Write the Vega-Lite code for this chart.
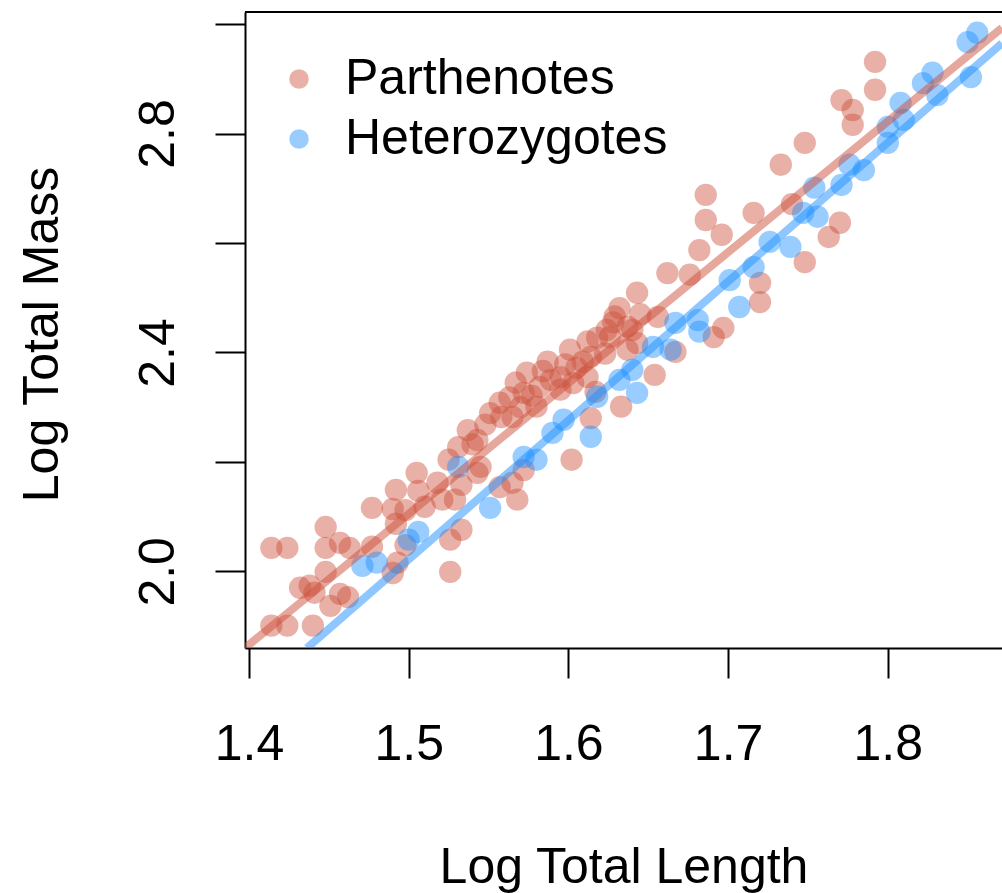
{
  "$schema": "https://vega.github.io/schema/vega-lite/v6.json",
  "width": 757,
  "height": 636,
  "autosize": {"type": "none"},
  "padding": {"left": 245, "top": 12, "right": 0, "bottom": 245},
  "background": "white",
  "config": {"view": {"stroke": null}, "font": "Liberation Sans"},
  "datasets": {
    "pts": [
      {"group": "Parthenotes", "length": 1.414, "mass": 2.043},
      {"group": "Parthenotes", "length": 1.424, "mass": 2.043},
      {"group": "Parthenotes", "length": 1.414, "mass": 1.901},
      {"group": "Parthenotes", "length": 1.424, "mass": 1.901},
      {"group": "Parthenotes", "length": 1.440, "mass": 1.901},
      {"group": "Parthenotes", "length": 1.432, "mass": 1.970},
      {"group": "Parthenotes", "length": 1.438, "mass": 1.974},
      {"group": "Parthenotes", "length": 1.448, "mass": 2.081},
      {"group": "Parthenotes", "length": 1.448, "mass": 2.043},
      {"group": "Parthenotes", "length": 1.457, "mass": 2.052},
      {"group": "Parthenotes", "length": 1.463, "mass": 2.043},
      {"group": "Parthenotes", "length": 1.448, "mass": 1.999},
      {"group": "Parthenotes", "length": 1.451, "mass": 1.937},
      {"group": "Parthenotes", "length": 1.457, "mass": 1.959},
      {"group": "Parthenotes", "length": 1.462, "mass": 1.953},
      {"group": "Parthenotes", "length": 1.477, "mass": 2.116},
      {"group": "Parthenotes", "length": 1.477, "mass": 2.045},
      {"group": "Parthenotes", "length": 1.490, "mass": 1.997},
      {"group": "Parthenotes", "length": 1.493, "mass": 2.016},
      {"group": "Parthenotes", "length": 1.492, "mass": 2.149},
      {"group": "Parthenotes", "length": 1.490, "mass": 2.114},
      {"group": "Parthenotes", "length": 1.492, "mass": 2.087},
      {"group": "Parthenotes", "length": 1.498, "mass": 2.112},
      {"group": "Parthenotes", "length": 1.505, "mass": 2.180},
      {"group": "Parthenotes", "length": 1.506, "mass": 2.147},
      {"group": "Parthenotes", "length": 1.498, "mass": 2.048},
      {"group": "Parthenotes", "length": 1.510, "mass": 2.118},
      {"group": "Parthenotes", "length": 1.518, "mass": 2.162},
      {"group": "Parthenotes", "length": 1.521, "mass": 2.131},
      {"group": "Parthenotes", "length": 1.525, "mass": 2.204},
      {"group": "Parthenotes", "length": 1.531, "mass": 2.227},
      {"group": "Parthenotes", "length": 1.537, "mass": 2.258},
      {"group": "Parthenotes", "length": 1.526, "mass": 2.058},
      {"group": "Parthenotes", "length": 1.533, "mass": 2.076},
      {"group": "Parthenotes", "length": 1.526, "mass": 1.999},
      {"group": "Parthenotes", "length": 1.543, "mass": 2.180},
      {"group": "Parthenotes", "length": 1.543, "mass": 2.240},
      {"group": "Parthenotes", "length": 1.545, "mass": 2.191},
      {"group": "Parthenotes", "length": 1.557, "mass": 2.308},
      {"group": "Parthenotes", "length": 1.558, "mass": 2.282},
      {"group": "Parthenotes", "length": 1.557, "mass": 2.154},
      {"group": "Parthenotes", "length": 1.565, "mass": 2.162},
      {"group": "Parthenotes", "length": 1.565, "mass": 2.282},
      {"group": "Parthenotes", "length": 1.568, "mass": 2.131},
      {"group": "Parthenotes", "length": 1.572, "mass": 2.185},
      {"group": "Parthenotes", "length": 1.572, "mass": 2.326},
      {"group": "Parthenotes", "length": 1.574, "mass": 2.363},
      {"group": "Parthenotes", "length": 1.577, "mass": 2.321},
      {"group": "Parthenotes", "length": 1.580, "mass": 2.301},
      {"group": "Parthenotes", "length": 1.582, "mass": 2.337},
      {"group": "Parthenotes", "length": 1.587, "mass": 2.383},
      {"group": "Parthenotes", "length": 1.589, "mass": 2.350},
      {"group": "Parthenotes", "length": 1.595, "mass": 2.355},
      {"group": "Parthenotes", "length": 1.601, "mass": 2.405},
      {"group": "Parthenotes", "length": 1.603, "mass": 2.344},
      {"group": "Parthenotes", "length": 1.609, "mass": 2.383},
      {"group": "Parthenotes", "length": 1.612, "mass": 2.355},
      {"group": "Parthenotes", "length": 1.614, "mass": 2.392},
      {"group": "Parthenotes", "length": 1.614, "mass": 2.280},
      {"group": "Parthenotes", "length": 1.602, "mass": 2.204},
      {"group": "Parthenotes", "length": 1.618, "mass": 2.427},
      {"group": "Parthenotes", "length": 1.624, "mass": 2.441},
      {"group": "Parthenotes", "length": 1.632, "mass": 2.481},
      {"group": "Parthenotes", "length": 1.633, "mass": 2.301},
      {"group": "Parthenotes", "length": 1.637, "mass": 2.447},
      {"group": "Parthenotes", "length": 1.637, "mass": 2.405},
      {"group": "Parthenotes", "length": 1.640, "mass": 2.441},
      {"group": "Parthenotes", "length": 1.643, "mass": 2.509},
      {"group": "Parthenotes", "length": 1.643, "mass": 2.417},
      {"group": "Parthenotes", "length": 1.626, "mass": 2.428},
      {"group": "Parthenotes", "length": 1.654, "mass": 2.359},
      {"group": "Parthenotes", "length": 1.656, "mass": 2.465},
      {"group": "Parthenotes", "length": 1.662, "mass": 2.545},
      {"group": "Parthenotes", "length": 1.676, "mass": 2.542},
      {"group": "Parthenotes", "length": 1.667, "mass": 2.401},
      {"group": "Parthenotes", "length": 1.682, "mass": 2.587},
      {"group": "Parthenotes", "length": 1.686, "mass": 2.688},
      {"group": "Parthenotes", "length": 1.686, "mass": 2.642},
      {"group": "Parthenotes", "length": 1.696, "mass": 2.615},
      {"group": "Parthenotes", "length": 1.691, "mass": 2.428},
      {"group": "Parthenotes", "length": 1.697, "mass": 2.445},
      {"group": "Parthenotes", "length": 1.716, "mass": 2.655},
      {"group": "Parthenotes", "length": 1.720, "mass": 2.527},
      {"group": "Parthenotes", "length": 1.720, "mass": 2.492},
      {"group": "Parthenotes", "length": 1.733, "mass": 2.743},
      {"group": "Parthenotes", "length": 1.740, "mass": 2.671},
      {"group": "Parthenotes", "length": 1.748, "mass": 2.783},
      {"group": "Parthenotes", "length": 1.748, "mass": 2.565},
      {"group": "Parthenotes", "length": 1.763, "mass": 2.611},
      {"group": "Parthenotes", "length": 1.770, "mass": 2.637},
      {"group": "Parthenotes", "length": 1.771, "mass": 2.861},
      {"group": "Parthenotes", "length": 1.778, "mass": 2.843},
      {"group": "Parthenotes", "length": 1.778, "mass": 2.816},
      {"group": "Parthenotes", "length": 1.792, "mass": 2.931},
      {"group": "Parthenotes", "length": 1.792, "mass": 2.880},
      {"group": "Parthenotes", "length": 1.595, "mass": 2.332},
      {"group": "Parthenotes", "length": 1.617, "mass": 2.328},
      {"group": "Parthenotes", "length": 1.551, "mass": 2.289},
      {"group": "Parthenotes", "length": 1.533, "mass": 2.158},
      {"group": "Parthenotes", "length": 1.529, "mass": 2.131},
      {"group": "Parthenotes", "length": 1.441, "mass": 1.961},
      {"group": "Parthenotes", "length": 1.584, "mass": 2.366},
      {"group": "Parthenotes", "length": 1.605, "mass": 2.372},
      {"group": "Parthenotes", "length": 1.623, "mass": 2.398},
      {"group": "Parthenotes", "length": 1.629, "mass": 2.466},
      {"group": "Parthenotes", "length": 1.563, "mass": 2.318},
      {"group": "Parthenotes", "length": 1.548, "mass": 2.268},
      {"group": "Parthenotes", "length": 1.567, "mass": 2.345},
      {"group": "Parthenotes", "length": 1.612, "mass": 2.420},
      {"group": "Parthenotes", "length": 1.628, "mass": 2.455},
      {"group": "Parthenotes", "length": 1.598, "mass": 2.378},
      {"group": "Parthenotes", "length": 1.570, "mass": 2.300},
      {"group": "Parthenotes", "length": 1.540, "mass": 2.232},
      {"group": "Parthenotes", "length": 1.645, "mass": 2.470},
      {"group": "Heterozygotes", "length": 1.471, "mass": 2.010},
      {"group": "Heterozygotes", "length": 1.480, "mass": 2.016},
      {"group": "Heterozygotes", "length": 1.500, "mass": 2.058},
      {"group": "Heterozygotes", "length": 1.506, "mass": 2.072},
      {"group": "Heterozygotes", "length": 1.531, "mass": 2.191},
      {"group": "Heterozygotes", "length": 1.551, "mass": 2.116},
      {"group": "Heterozygotes", "length": 1.572, "mass": 2.209},
      {"group": "Heterozygotes", "length": 1.580, "mass": 2.204},
      {"group": "Heterozygotes", "length": 1.590, "mass": 2.253},
      {"group": "Heterozygotes", "length": 1.597, "mass": 2.277},
      {"group": "Heterozygotes", "length": 1.614, "mass": 2.246},
      {"group": "Heterozygotes", "length": 1.618, "mass": 2.319},
      {"group": "Heterozygotes", "length": 1.632, "mass": 2.350},
      {"group": "Heterozygotes", "length": 1.643, "mass": 2.326},
      {"group": "Heterozygotes", "length": 1.640, "mass": 2.368},
      {"group": "Heterozygotes", "length": 1.653, "mass": 2.410},
      {"group": "Heterozygotes", "length": 1.664, "mass": 2.405},
      {"group": "Heterozygotes", "length": 1.667, "mass": 2.454},
      {"group": "Heterozygotes", "length": 1.681, "mass": 2.459},
      {"group": "Heterozygotes", "length": 1.682, "mass": 2.438},
      {"group": "Heterozygotes", "length": 1.701, "mass": 2.532},
      {"group": "Heterozygotes", "length": 1.707, "mass": 2.483},
      {"group": "Heterozygotes", "length": 1.716, "mass": 2.556},
      {"group": "Heterozygotes", "length": 1.726, "mass": 2.602},
      {"group": "Heterozygotes", "length": 1.739, "mass": 2.593},
      {"group": "Heterozygotes", "length": 1.747, "mass": 2.655},
      {"group": "Heterozygotes", "length": 1.756, "mass": 2.648},
      {"group": "Heterozygotes", "length": 1.754, "mass": 2.701},
      {"group": "Heterozygotes", "length": 1.771, "mass": 2.706},
      {"group": "Heterozygotes", "length": 1.776, "mass": 2.743},
      {"group": "Heterozygotes", "length": 1.785, "mass": 2.733},
      {"group": "Heterozygotes", "length": 1.800, "mass": 2.783},
      {"group": "Heterozygotes", "length": 1.800, "mass": 2.812},
      {"group": "Heterozygotes", "length": 1.808, "mass": 2.856},
      {"group": "Heterozygotes", "length": 1.810, "mass": 2.825},
      {"group": "Heterozygotes", "length": 1.822, "mass": 2.892},
      {"group": "Heterozygotes", "length": 1.828, "mass": 2.911},
      {"group": "Heterozygotes", "length": 1.831, "mass": 2.870},
      {"group": "Heterozygotes", "length": 1.852, "mass": 2.903},
      {"group": "Heterozygotes", "length": 1.850, "mass": 2.967},
      {"group": "Heterozygotes", "length": 1.856, "mass": 2.984}
    ],
    "fits": [
      {"group": "Parthenotes", "length": 1.3975, "mass": 1.860},
      {"group": "Parthenotes", "length": 1.8715, "mass": 2.993},
      {"group": "Heterozygotes", "length": 1.4363, "mass": 1.860},
      {"group": "Heterozygotes", "length": 1.8715, "mass": 2.965}
    ],
    "frame": [{"edge": "top"}]
  },
  "layer": [
    {
      "data": {"name": "pts"},
      "mark": {"type": "circle", "opacity": 0.45, "size": 500},
      "encoding": {
        "x": {
          "field": "length", "type": "quantitative",
          "scale": {"domain": [1.3975, 1.8715], "nice": false, "zero": false},
          "axis": {
            "values": [1.4, 1.5, 1.6, 1.7, 1.8], "format": ".1f",
            "title": "Log Total Length", "titleFontSize": 50, "titleFontWeight": "normal",
            "titleColor": "black", "titleY": 234, "titleBaseline": "alphabetic",
            "labelFontSize": 50, "labelColor": "black", "labelBaseline": "alphabetic",
            "labelPadding": 81, "labelFlush": false, "labelOverlap": false,
            "tickSize": 30, "tickWidth": 2, "tickColor": "black",
            "domainColor": "black", "domainWidth": 2, "grid": false
          }
        },
        "y": {
          "field": "mass", "type": "quantitative",
          "scale": {"domain": [1.86, 3.022], "nice": false, "zero": false},
          "axis": {
            "values": [2.0, 2.2, 2.4, 2.6, 2.8, 3.0],
            "labelExpr": "(abs(datum.value-2)<0.01 || abs(datum.value-2.4)<0.01 || abs(datum.value-2.8)<0.01) ? format(datum.value, '.1f') : ''",
            "title": "Log Total Mass", "titleFontSize": 50, "titleFontWeight": "normal",
            "titleColor": "black", "titleAngle": 270, "titleX": -188, "titleY": 322,
            "titleAlign": "center", "titleBaseline": "alphabetic",
            "labelFontSize": 50, "labelColor": "black", "labelAngle": 270,
            "labelAlign": "center", "labelBaseline": "alphabetic", "labelPadding": 42,
            "labelFlush": false, "labelOverlap": false,
            "tickSize": 30, "tickWidth": 2, "tickColor": "black",
            "domainColor": "black", "domainWidth": 2, "grid": false
          }
        },
        "color": {
          "field": "group", "type": "nominal",
          "scale": {"domain": ["Parthenotes", "Heterozygotes"], "range": ["#CD4F39", "#1E90FF"]},
          "legend": {
            "title": null, "orient": "none", "legendX": 29, "legendY": 42,
            "labelFontSize": 50, "labelColor": "black", "labelFont": "Liberation Sans",
            "labelLimit": 0,
            "symbolType": "circle", "symbolSize": 380, "symbolOpacity": 0.45,
            "symbolStrokeWidth": 0, "labelOffset": 21, "rowPadding": 10, "padding": 0
          }
        }
      }
    },
    {
      "data": {"name": "fits"},
      "mark": {"type": "line", "strokeWidth": 8, "opacity": 0.5, "clip": true},
      "encoding": {
        "x": {"field": "length", "type": "quantitative"},
        "y": {"field": "mass", "type": "quantitative"},
        "color": {
          "field": "group", "type": "nominal",
          "scale": {"domain": ["Parthenotes", "Heterozygotes"], "range": ["#CD4F39", "#1E90FF"]},
          "legend": null
        }
      }
    },
    {
      "data": {"name": "frame"},
      "mark": {"type": "rule", "color": "black", "strokeWidth": 2},
      "encoding": {"y": {"datum": 3.022}}
    }
  ],
  "resolve": {"scale": {"color": "independent"}}
}
